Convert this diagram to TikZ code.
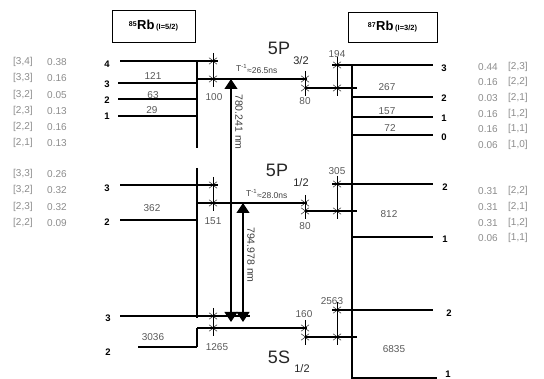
\documentclass[tikz,border=0pt]{standalone}
\usepackage{amsmath}
\usepackage{fontspec}
\setmainfont{Liberation Sans}
\usetikzlibrary{arrows.meta,positioning}

\newcommand{\hfsgap}[3]{%
  \draw[thin,<->] (#1,#2) -- (#1,#3);
  \draw[thin,->] (#1,#2-8) -- (#1,#2);
  \draw[thin,->] (#1,#3+8) -- (#1,#3);}

\begin{document}
\begin{tikzpicture}[x=1pt, y=-1pt, >={Straight Barb[length=3pt,width=8pt]}]

\tikzstyle{level}=[line width=1.4pt]
\tikzstyle{bar}=[line width=1.2pt]
\tikzstyle{num}=[font=\fontsize{10}{11}\selectfont, text=black!65, inner sep=0.5pt]
\tikzstyle{flabel}=[font=\fontsize{9.5}{10}\selectfont\bfseries, inner sep=0pt]
\tikzstyle{strength}=[font=\fontsize{10}{11}\selectfont, text=black!45, inner sep=0pt, anchor=west]
\tikzstyle{term}=[font=\fontsize{18}{20}\selectfont, text=black!85, inner sep=0pt]
\tikzstyle{sub}=[font=\fontsize{11}{12}\selectfont, text=black!85, inner sep=0pt]
\tikzstyle{life}=[font=\fontsize{8.5}{9}\selectfont, text=black!75, inner sep=0pt, anchor=west]
\tikzstyle{wave}=[font=\fontsize{10.5}{11}\selectfont, text=black!75, inner sep=0pt, rotate=-90]
\tikzstyle{laser}=[{Triangle[length=10pt,width=13pt]}-{Triangle[length=10pt,width=13pt]}, line width=1.2pt]

\useasboundingbox (0,0) rectangle (544,379);

% isotope boxes
\node[draw, thick, minimum width=83pt, minimum height=32pt] (Rb85) at (153.5,26)
  {\textsuperscript{\bfseries 85}{\fontsize{13}{14}\selectfont\bfseries Rb}\,{\fontsize{7.5}{8}\selectfont\bfseries (I=5/2)}};
\node[draw, thick, minimum width=89pt, minimum height=30pt] (Rb87) at (392.5,27)
  {\textsuperscript{\bfseries 87}{\fontsize{13}{14}\selectfont\bfseries Rb}\,{\fontsize{7.5}{8}\selectfont\bfseries (I=3/2)}};

% 85Rb hyperfine levels
\draw[level] (120,61) -- (218,61);
\draw[level] (118,83) -- (197,83);
\draw[level] (118,99) -- (197,99);
\draw[level] (118,116) -- (197,116);
\draw[level] (120,185) -- (218,185);
\draw[level] (120,220) -- (197,220);
\draw[level] (120,316) -- (250,316);
\draw[level] (138,347) -- (197,347);
\draw[bar] (197,61) -- (197,148);
\draw[bar] (197,168) -- (197,318);
\draw[bar] (197,328) -- (197,347);

% fine structure lines
\draw[level] (197,79) -- (307,79);
\draw[level] (305,88) -- (357,88);
\draw[level] (197,203) -- (307,203);
\draw[level] (305,211) -- (357,211);
\draw[level] (197,328) -- (307,328);
\draw[level] (305,337) -- (357,337);

% 87Rb hyperfine levels
\draw[level] (332,65) -- (433,65);
\draw[level] (352,97) -- (433,97);
\draw[level] (352,117) -- (433,117);
\draw[level] (352,135) -- (433,135);
\draw[level] (332,184) -- (433,184);
\draw[level] (352,237) -- (433,237);
\draw[level] (332,310) -- (433,310);
\draw[level] (352,378) -- (437,378);
\draw[bar] (352,65) -- (352,379);

% splittings
\hfsgap{213}{61}{79}
\hfsgap{305}{79}{88}
\hfsgap{337}{65}{88}
\hfsgap{213}{185}{203}
\hfsgap{305}{203}{211}
\hfsgap{337}{184}{211}
\hfsgap{213}{316}{328}
\hfsgap{305}{328}{337}
\hfsgap{337}{310}{337}

\node[num] (d100) at (214,97) {100};
\node[num] (d80a) at (305,101) {80};
\node[num] (d194) at (337,54) {194};
\node[num] (d151) at (213,221) {151};
\node[num] (d80b) at (305,226) {80};
\node[num] (d305) at (337,171) {305};
\node[num] (d1265) at (217,347) {1265};
\node[num] (d160) at (304,314) {160};
\node[num] (d2563) at (332,301) {2563};

\node[num] (s121) at (153,76) {121};
\node[num] (s63) at (153,95) {63};
\node[num] (s29) at (152,110) {29};
\node[num] (s362) at (152,208) {362};
\node[num] (s3036) at (153,337) {3036};
\node[num] (s267) at (387,87) {267};
\node[num] (s157) at (387,111) {157};
\node[num] (s72) at (390,128) {72};
\node[num] (s812) at (389,214) {812};
\node[num] (s6835) at (394,349) {6835};

% F labels
\node[flabel] (F85a) at (107,64) {4};
\node[flabel] (F85b) at (107,84) {3};
\node[flabel] (F85c) at (107,100) {2};
\node[flabel] (F85d) at (107,116) {1};
\node[flabel] (F85e) at (107,188) {3};
\node[flabel] (F85f) at (107,222) {2};
\node[flabel] (F85g) at (108,318) {3};
\node[flabel] (F85h) at (108,352) {2};
\node[flabel] (F87a) at (444,68) {3};
\node[flabel] (F87b) at (444,98) {2};
\node[flabel] (F87c) at (444,118) {1};
\node[flabel] (F87d) at (444,137) {0};
\node[flabel] (F87e) at (445,187) {2};
\node[flabel] (F87f) at (445,239) {1};
\node[flabel] (F87g) at (449,313) {2};
\node[flabel] (F87h) at (448,374) {1};

% terms
\node[term] (P32) at (279,48) {5P};
\node[sub] (P32s) at (301,61) {3/2};
\node[term] (P12) at (277,170) {5P};
\node[sub] (P12s) at (301,183) {1/2};
\node[term] (S12) at (279,357) {5S};
\node[sub] (S12s) at (302,369) {1/2};
\node[life] (tau32) at (236,69) {T\textsuperscript{-1}\raisebox{-1.5pt}{≈26.5ns}};
\node[life] (tau12) at (246,194) {T\textsuperscript{-1}\raisebox{-1.5pt}{≈28.0ns}};

% optical transitions
\coordinate (D2top) at (231,79);
\coordinate (D2bot) at (231,322);
\coordinate (D1top) at (243,203);
\coordinate (D1bot) at (243,322);
\draw[laser] (D2bot) -- (D2top);
\draw[laser] (D1bot) -- (D1top);
\node[wave] (D2lab) at (239,122) {780.241 nm};
\node[wave] (D1lab) at (251,255) {794.978 nm};

% line strengths 85Rb
\node[strength] (a1) at (13,62) {[3,4]};  \node[strength] (b1) at (47,62) {0.38};
\node[strength] (a2) at (13,78) {[3,3]};  \node[strength] (b2) at (47,78) {0.16};
\node[strength] (a3) at (13,95) {[3,2]};  \node[strength] (b3) at (47,95) {0.05};
\node[strength] (a4) at (13,111) {[2,3]}; \node[strength] (b4) at (47,111) {0.13};
\node[strength] (a5) at (13,127) {[2,2]}; \node[strength] (b5) at (47,127) {0.16};
\node[strength] (a6) at (13,143) {[2,1]}; \node[strength] (b6) at (47,143) {0.13};
\node[strength] (a7) at (13,174) {[3,3]}; \node[strength] (b7) at (47,174) {0.26};
\node[strength] (a8) at (13,190) {[3,2]}; \node[strength] (b8) at (47,190) {0.32};
\node[strength] (a9) at (13,207) {[2,3]}; \node[strength] (b9) at (47,207) {0.32};
\node[strength] (a10) at (13,223) {[2,2]}; \node[strength] (b10) at (47,223) {0.09};

% line strengths 87Rb
\node[strength] (c1) at (478,67) {0.44};  \node[strength] (e1) at (508,67) {[2,3]};
\node[strength] (c2) at (478,82) {0.16};  \node[strength] (e2) at (508,82) {[2,2]};
\node[strength] (c3) at (478,98) {0.03};  \node[strength] (e3) at (508,98) {[2,1]};
\node[strength] (c4) at (478,114) {0.16}; \node[strength] (e4) at (508,114) {[1,2]};
\node[strength] (c5) at (478,129) {0.16}; \node[strength] (e5) at (508,129) {[1,1]};
\node[strength] (c6) at (478,145) {0.06}; \node[strength] (e6) at (508,145) {[1,0]};
\node[strength] (c7) at (478,191) {0.31}; \node[strength] (e7) at (508,191) {[2,2]};
\node[strength] (c8) at (478,207) {0.31}; \node[strength] (e8) at (508,207) {[2,1]};
\node[strength] (c9) at (478,223) {0.31}; \node[strength] (e9) at (508,223) {[1,2]};
\node[strength] (c10) at (478,238) {0.06}; \node[strength] (e10) at (508,238) {[1,1]};

\end{tikzpicture}
\end{document}
